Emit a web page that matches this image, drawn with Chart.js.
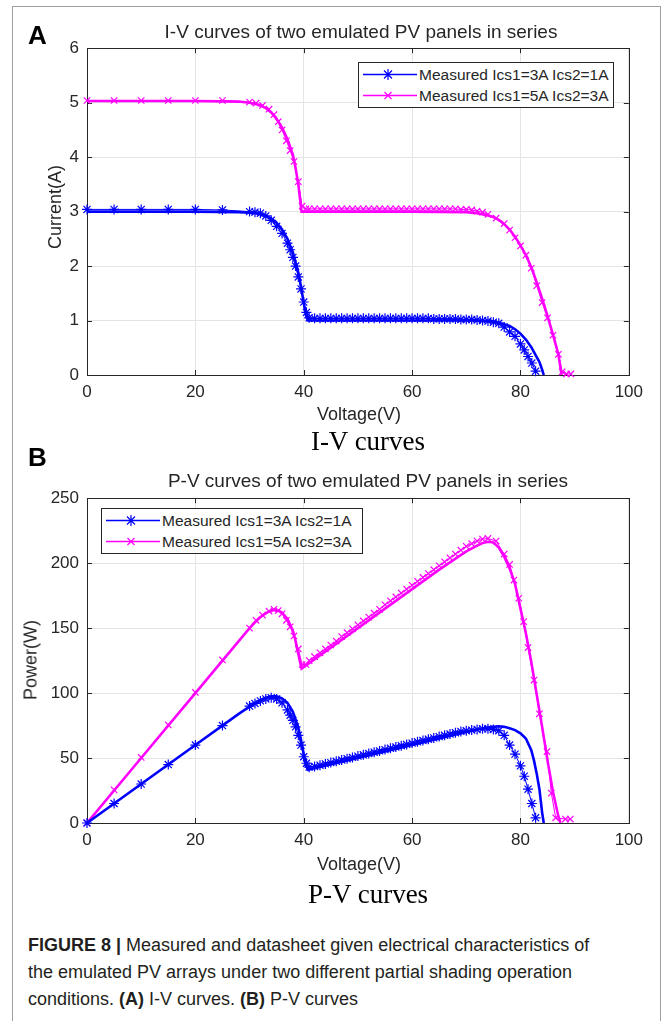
<!DOCTYPE html>
<html>
<head>
<meta charset="utf-8">
<script src="https://cdn.jsdelivr.net/npm/chart.js@4.4.1/dist/chart.umd.min.js"></script>
<style>
  html, body { margin: 0; padding: 0; background: #fff; width: 664px; height: 1021px; overflow: hidden; }
  body { position: relative; font-family: "Liberation Sans", Arial, sans-serif; color: #262626; }
  .frame { position: absolute; left: 12px; top: 6px; width: 647px; height: 1100px; border: 1.5px solid #a0a0a0; border-bottom: none; }
  .abs { position: absolute; white-space: nowrap; z-index: 2; }
  .panel { left: 28px; font: bold 26px "Liberation Sans", Arial, sans-serif; color: #000; }
  .ptitle { font-size: 19px; transform: translate(-50%, -50%); }
  .xlab { font-size: 18px; transform: translate(-50%, -50%); }
  .ylab { font-size: 18px; transform: translate(-50%, -50%) rotate(-90deg); }
  .sub { font: 27px "Liberation Serif", "Times New Roman", serif; color: #000; transform: translate(-50%, -50%); }
  canvas { position: absolute; z-index: 1; }
  .legend { position: absolute; z-index: 3; border: 1px solid #262626; background: #fff; font-size: 15.5px; padding-top: 1px; box-sizing: border-box; white-space: nowrap; }
  .legend .row { height: 21px; display: flex; align-items: center; }
  .legend svg { margin-right: 2px; flex: none; }
  .caption { position: absolute; left: 28px; top: 932px; width: 630px; font: 18px "Liberation Sans", Arial, sans-serif; line-height: 27px; color: #231f20; white-space: nowrap; }
</style>
</head>
<body>
<div class="frame"></div>

<div class="abs panel" style="top:20px;">A</div>
<div class="abs ptitle" style="left:361px; top:32px;">I-V curves of two emulated PV panels in series</div>
<div class="abs ylab" style="left:55px; top:207px;">Current(A)</div>
<div class="abs xlab" style="left:359px; top:414px;">Voltage(V)</div>
<div class="abs sub" style="left:368px; top:441px;">I-V curves</div>

<div class="abs panel" style="top:442px;">B</div>
<div class="abs ptitle" style="left:368px; top:481px;">P-V curves of two emulated PV panels in series</div>
<div class="abs ylab" style="left:31px; top:660px;">Power(W)</div>
<div class="abs xlab" style="left:359px; top:864px;">Voltage(V)</div>
<div class="abs sub" style="left:368px; top:894px;">P-V curves</div>

<canvas id="ivChart" width="610" height="380" style="left:40px; top:30px;"></canvas>
<canvas id="pvChart" width="610" height="380" style="left:40px; top:480px;"></canvas>

<div class="legend" id="legendA" style="left:358px; top:62px; width:256px; height:46px;"></div>
<div class="legend" id="legendB" style="left:101px; top:508px; width:262px; height:46px;"></div>

<div class="caption"><b>FIGURE 8 |</b> Measured and datasheet given electrical characteristics of<br>the emulated PV arrays under two different partial shading operation<br>conditions. <b>(A)</b> I-V curves. <b>(B)</b> P-V curves</div>

<script>
// ---- data ----
const legendLabels = ['Measured Ics1=3A Ics2=1A', 'Measured Ics1=5A Ics2=3A'];
const xTicks = [0, 20, 40, 60, 80, 100];
const ivTicks = [0, 1, 2, 3, 4, 5, 6];
const pvTicks = [0, 50, 100, 150, 200, 250];

// Ics1=3A Ics2=1A, measured (same voltages for I-V and P-V)
const blueMeasV = [0, 5, 10, 15, 20, 25, 30, 31, 32, 33, 34, 35, 36, 37, 37.5, 38, 38.5, 39, 39.5, 40, 40.5, 41,
  42, 43, 44, 45, 46, 47, 48, 49, 50, 51, 52, 53, 54, 55, 56, 57, 58, 59, 60, 61, 62, 63, 64, 65, 66, 67, 68, 69, 70, 71, 72, 73, 74, 75,
  76, 77, 78, 79, 80, 80.7, 81.4, 82.1, 82.8];
const blueMeasI = [3.04, 3.04, 3.04, 3.04, 3.04, 3.03, 3.0, 2.99, 2.97, 2.92, 2.84, 2.73, 2.6, 2.42, 2.3, 2.16, 2.0, 1.8, 1.58, 1.34, 1.15, 1.05,
  1.04, 1.04, 1.04, 1.04, 1.04, 1.04, 1.04, 1.04, 1.04, 1.04, 1.04, 1.04, 1.04, 1.04, 1.04, 1.04, 1.04, 1.04, 1.04, 1.04, 1.04, 1.04,
  1.03, 1.03, 1.03, 1.03, 1.03, 1.02, 1.02, 1.02, 1.01, 1.0, 0.99, 0.97,
  0.95, 0.88, 0.79, 0.71, 0.57, 0.46, 0.34, 0.22, 0.07];
const blueMeasP = [0, 15, 30, 45, 60, 75, 90, 92, 94, 95.5, 96.5, 95.5, 92.5, 87, 83, 79, 74, 67.5, 60, 51, 46, 43,
  43.5, 44.5, 45.5, 46.5, 47.5, 48.5, 49.5, 50.5, 51.5, 52.5, 53.5, 54.5, 55.5, 56.5, 57.5, 58.5, 59.5, 60.5, 61.5, 62.5, 63.5, 64.5,
  65.5, 66.5, 67.5, 68.5, 69.5, 70.5, 71, 71.5, 72, 72.5, 72.5, 72,
  71, 67.5, 60, 53, 44, 36, 26, 15, 4];

// Ics1=3A Ics2=1A, datasheet curve
const blueSimV = [0, 10, 20, 28, 30, 31, 32, 33, 34, 35, 36, 37, 38, 39, 39.5, 40, 40.4, 40.8, 50, 60, 70, 72,
  74, 75, 76, 77, 78, 79, 80, 81, 82, 82.5, 83, 83.5, 84, 84.3];
const blueSimI = [3.0, 3.0, 3.0, 2.99, 2.98, 2.97, 2.95, 2.92, 2.87, 2.79, 2.67, 2.5, 2.25, 1.88, 1.62, 1.32, 1.1, 1.0, 1.0, 1.0, 1.0, 1.0,
  0.99, 0.98, 0.96, 0.93, 0.9, 0.84, 0.76, 0.65, 0.51, 0.42, 0.33, 0.24, 0.1, 0];
const blueSimP = [0, 30, 60, 84, 89.5, 92, 94.5, 96.5, 97.5, 97.5, 96, 92.5, 85.5, 73.5, 64, 53, 44.5, 41, 50, 60, 70, 72,
  73.5, 74, 74.5, 74, 73, 71.5, 69, 65, 56, 48, 38, 26, 8, 0];

// Ics1=5A Ics2=3A, measured
const magIvMeasV = [0, 5, 10, 15, 20, 25, 30, 31.2, 32.4, 33.6, 34.5, 35.3, 36, 36.8, 37.5, 38.2, 39, 39.7, 40.4,
  41, 42, 43, 44, 45, 46, 47, 48, 49, 50, 51, 52, 53, 54, 55, 56, 57, 58, 59, 60, 61, 62, 63, 64, 65, 66, 67, 68, 69, 70, 71, 72, 73, 74,
  75.5, 77, 78, 79, 80, 81, 82, 83, 84, 85, 86, 87, 87.7, 88.5, 89.3];
const magIvMeasI = [5.04, 5.04, 5.04, 5.04, 5.04, 5.04, 5.01, 4.99, 4.95, 4.88, 4.78, 4.65, 4.5, 4.3, 4.12, 3.92, 3.55, 3.1, 3.05,
  3.05, 3.05, 3.05, 3.05, 3.05, 3.05, 3.05, 3.05, 3.05, 3.05, 3.05, 3.05, 3.05, 3.05, 3.05, 3.05, 3.05, 3.05, 3.05, 3.05,
  3.05, 3.05, 3.05, 3.05, 3.05, 3.05, 3.05, 3.05, 3.04, 3.04, 3.03, 3.01, 2.99, 2.95,
  2.88, 2.78, 2.66, 2.52, 2.37, 2.2, 1.96, 1.64, 1.33, 1.05, 0.73, 0.38, 0.06, 0.02, 0.02];
const magPvMeasV = [0, 5, 10, 15, 20, 25, 30, 31.2, 32.4, 33.6, 34.5, 35.3, 36, 36.8, 37.5, 38.2, 39, 39.7, 40.4,
  41, 42, 43, 44, 45, 46, 47, 48, 49, 50, 51, 52, 53, 54, 55, 56, 57, 58, 59, 60, 61, 62, 63, 64, 65, 66, 67, 68, 69, 70, 71, 72, 73, 74,
  75.5, 77, 78, 78.8, 79.7, 80.6, 81.4, 82.5, 83.5, 84.9, 85.7, 86.5, 88.3, 89.2];
const magPvMeasP = [0, 25.5, 50.5, 75.5, 100.5, 125.5, 150, 156, 160, 163, 164.5, 163.5, 161, 156, 151, 144, 134, 122, 122,
  125, 128, 131, 134, 137, 140, 143.5, 146.5, 149.5, 152.5, 155.5, 158.5, 161.5, 164.5, 168, 171, 174, 177, 180, 183,
  186, 189, 192, 195, 198, 201, 204, 207, 210, 213, 215, 217, 218.5, 219,
  217, 207, 199, 187, 173, 155, 135, 110, 84, 55, 23, 4, 3, 3];

// Ics1=5A Ics2=3A, datasheet curve
const magSimV = [0, 10, 20, 28, 30, 31, 32, 33, 34, 35, 36, 37, 38, 38.5, 39, 39.6, 40, 50, 60,
  70, 72, 74, 75, 76, 77, 78, 79, 80, 81, 82, 83, 84, 85, 86, 87, 87.6];
const magSimI = [5.03, 5.03, 5.03, 5.02, 5.0, 4.98, 4.95, 4.9, 4.82, 4.7, 4.54, 4.33, 4.04, 3.8, 3.5, 3.0, 3.0, 3.0, 3.0,
  2.99, 2.97, 2.93, 2.9, 2.85, 2.77, 2.67, 2.54, 2.38, 2.2, 1.98, 1.7, 1.4, 1.08, 0.74, 0.38, 0];
const magSimPvV = [0, 10, 20, 28, 30, 31, 32, 33, 34, 35, 36, 37, 38, 38.5, 39, 39.6, 45, 50, 55, 60, 65, 70,
  72, 73, 74, 75, 76, 77, 78, 79, 80, 81, 82, 83, 84, 85, 86, 87, 87.4];
const magSimP = [0, 50, 100, 140, 150, 154.5, 158.5, 161.5, 163.5, 164, 162, 157, 148, 140, 130, 118.8, 135, 150, 165, 180, 195, 209,
  213.5, 215.5, 216.5, 216, 212, 205, 196, 184, 165, 146, 124, 99, 74, 48, 24, 5, 0];

const BLUE = '#0000ff';
const MAGENTA = '#ff00ff';

Chart.defaults.font.family = '"Liberation Sans", Arial, sans-serif';
Chart.defaults.color = '#262626';

function pts(xs, ys) {
  return xs.map((x, i) => ({ x: x, y: ys[i] }));
}

// MATLAB style box with inward ticks
const boxPlugin = {
  id: 'box',
  beforeDatasetsDraw(chart) {
    const { ctx, chartArea: a, scales } = chart;
    ctx.save();
    ctx.strokeStyle = '#262626';
    ctx.lineWidth = 1;
    ctx.strokeRect(Math.round(a.left) + 0.5, Math.round(a.top) + 0.5, Math.round(a.right - a.left), Math.round(a.bottom - a.top));
    ctx.beginPath();
    scales.x.ticks.forEach(t => {
      const px = Math.round(scales.x.getPixelForValue(t.value)) + 0.5;
      ctx.moveTo(px, a.bottom); ctx.lineTo(px, a.bottom - 5);
      ctx.moveTo(px, a.top); ctx.lineTo(px, a.top + 5);
    });
    scales.y.ticks.forEach(t => {
      const py = Math.round(scales.y.getPixelForValue(t.value)) + 0.5;
      ctx.moveTo(a.left, py); ctx.lineTo(a.left + 5, py);
      ctx.moveTo(a.right, py); ctx.lineTo(a.right - 5, py);
    });
    ctx.stroke();
    ctx.restore();
  }
};

function measured(data, color, style, r) {
  return {
    data: data, borderColor: color, backgroundColor: color, borderWidth: 1,
    pointStyle: style, pointRadius: r, pointBorderWidth: 1.2, pointBorderColor: color,
    showLine: true, clip: false
  };
}
function datasheet(data, color) {
  return {
    data: data, borderColor: color, backgroundColor: color, borderWidth: 2.6,
    pointRadius: 0, showLine: true
  };
}

function makeChart(id, datasets, yTicks, padTop, xAxisH) {
  const yStep = yTicks[1] - yTicks[0];
  return new Chart(document.getElementById(id), {
    type: 'scatter',
    data: { datasets: datasets },
    options: {
      responsive: false,
      animation: false,
      devicePixelRatio: 1,
      layout: { padding: { top: padTop, right: 18, left: 0, bottom: 0 } },
      plugins: { legend: { display: false }, tooltip: { enabled: false } },
      scales: {
        x: {
          type: 'linear', min: xTicks[0], max: xTicks[xTicks.length - 1],
          ticks: { stepSize: xTicks[1] - xTicks[0], padding: 7, font: { size: 17 }, color: '#262626' },
          grid: { color: '#e4e4e4', drawTicks: false },
          border: { display: false },
          afterFit: s => { s.height = xAxisH; }
        },
        y: {
          type: 'linear', min: yTicks[0], max: yTicks[yTicks.length - 1],
          ticks: { stepSize: yStep, padding: 8, font: { size: 17 }, color: '#262626' },
          grid: { color: '#e4e4e4', drawTicks: false },
          border: { display: false },
          afterFit: s => { s.width = 47; }
        }
      }
    },
    plugins: [boxPlugin]
  });
}

makeChart('ivChart', [
  measured(pts(blueMeasV, blueMeasI), BLUE, 'star', 5),
  datasheet(pts(blueSimV, blueSimI), BLUE),
  measured(pts(magIvMeasV, magIvMeasI), MAGENTA, 'crossRot', 4.5),
  datasheet(pts(magSimV, magSimI), MAGENTA)
], ivTicks, 16, 35);

makeChart('pvChart', [
  measured(pts(blueMeasV, blueMeasP), BLUE, 'star', 5),
  datasheet(pts(blueSimV, blueSimP), BLUE),
  measured(pts(magPvMeasV, magPvMeasP), MAGENTA, 'crossRot', 4.5),
  datasheet(pts(magSimPvV, magSimP), MAGENTA)
], pvTicks, 15, 37);

// legends: line + marker sample, then label
function markerSvg(color, style) {
  let m;
  if (style === 'star') {
    m = '<path d="M29 5V16M23.5 10.5H34.5M25 6.5L33 14.5M33 6.5L25 14.5" stroke="' + color + '" stroke-width="1.2"/>';
  } else {
    m = '<path d="M25.5 7L32.5 14M32.5 7L25.5 14" stroke="' + color + '" stroke-width="1.2"/>';
  }
  return '<svg width="58" height="21"><line x1="4" y1="10.5" x2="58" y2="10.5" stroke="' + color + '" stroke-width="1.5"/>' + m + '</svg>';
}
function fillLegend(id) {
  const box = document.getElementById(id);
  box.innerHTML =
    '<div class="row">' + markerSvg(BLUE, 'star') + '<span>' + legendLabels[0] + '</span></div>' +
    '<div class="row">' + markerSvg(MAGENTA, 'crossRot') + '<span>' + legendLabels[1] + '</span></div>';
}
fillLegend('legendA');
fillLegend('legendB');
</script>
</body>
</html>
